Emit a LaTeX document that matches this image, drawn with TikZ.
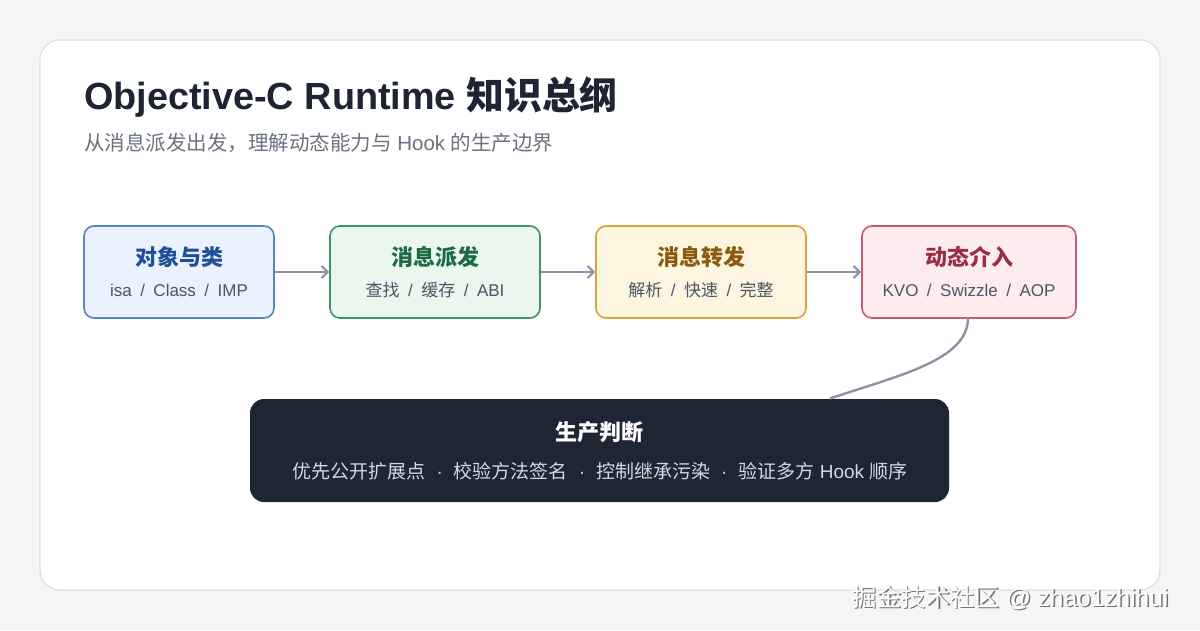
\documentclass[tikz,border=0pt]{standalone}
\usepackage{fontspec}
\setmainfont{Noto Sans CJK SC}
\newfontfamily\latf{Liberation Sans}
\usetikzlibrary{arrows.meta,positioning}
\definecolor{bg}{HTML}{F4F5F7}
\definecolor{cardborder}{HTML}{DCDFE5}
\definecolor{titlec}{HTML}{1E2433}
\definecolor{subc}{HTML}{6B7280}
\definecolor{bodyc}{HTML}{4B5563}
\definecolor{arrowc}{HTML}{8A93A6}
\definecolor{bfill}{HTML}{EAF2FE}\definecolor{bline}{HTML}{5B84C8}\definecolor{btext}{HTML}{1F4E9A}
\definecolor{gfill}{HTML}{E9F7EE}\definecolor{gline}{HTML}{3E9466}\definecolor{gtext}{HTML}{1E6B43}
\definecolor{yfill}{HTML}{FEF5E0}\definecolor{yline}{HTML}{D6A33E}\definecolor{ytext}{HTML}{8A5A0E}
\definecolor{rfill}{HTML}{FDECEF}\definecolor{rline}{HTML}{C85A72}\definecolor{rtext}{HTML}{9A2D45}
\definecolor{darkfill}{HTML}{1E2533}
\definecolor{darksub}{HTML}{D4D8DF}
\newcommand{\sepsl}{{\latf\hspace{8.5pt}/\hspace{8.5pt}}}
\newcommand{\sepdot}{{\latf\hspace{11pt}·\hspace{11pt}}}
\tikzset{
  stagebox/.style={draw, line width=1.6pt, rounded corners=10pt, minimum height=92pt, inner sep=0pt},
  stagetitle/.style={font=\fontsize{22}{26}\selectfont\bfseries, inner sep=0pt},
  stagesub/.style={font=\fontsize{17}{20}\selectfont, text=bodyc, inner sep=0pt},
  flow/.style={draw=arrowc, line width=2.4pt, -{Straight Barb[length=6pt,width=12pt,line width=2.2pt]}},
}
\begin{document}
\begin{tikzpicture}[x=1pt,y=-1pt]
\useasboundingbox (0,0) rectangle (1200,630);
\fill[bg] (0,0) rectangle (1200,630);
\draw[cardborder, fill=white, line width=1.2pt, rounded corners=20pt] (40,40) rectangle (1160,590);

\node[anchor=base west, inner sep=0pt, text=titlec, font=\fontsize{37.8}{44}\selectfont\bfseries] (title) at (84,109) {{\latf Objective-C Runtime }知识总纲};
\node[anchor=base west, inner sep=0pt, text=subc, font=\fontsize{20.5}{24}\selectfont] (subtitle) at (84,150) {从消息派发出发，理解动态能力与{\latf\ Hook }的生产边界};

\node[stagebox, fill=bfill, draw=bline, minimum width=190pt] (b1) at (179,272) {};
\node[stagebox, fill=gfill, draw=gline, minimum width=210pt] (b2) at (435,272) {};
\node[stagebox, fill=yfill, draw=yline, minimum width=210pt] (b3) at (701,272) {};
\node[stagebox, fill=rfill, draw=rline, minimum width=214pt] (b4) at (969,272) {};

\node[stagetitle, text=btext] (t1) at (179,257) {对象与类};
\node[stagesub] (s1) at (179,290) {\latf isa\sepsl Class\sepsl IMP};
\node[stagetitle, text=gtext] (t2) at (435,257) {消息派发};
\node[stagesub] (s2) at (435,290) {查找\sepsl 缓存\sepsl{\latf ABI}};
\node[stagetitle, text=ytext] (t3) at (701,257) {消息转发};
\node[stagesub] (s3) at (701,290) {解析\sepsl 快速\sepsl 完整};
\node[stagetitle, text=rtext] (t4) at (969,257) {动态介入};
\node[stagesub] (s4) at (969,290) {\latf KVO\sepsl Swizzle\sepsl AOP};

\draw[flow] (b1.east) -- (b2.west);
\draw[flow] (b2.east) -- (b3.west);
\draw[flow] (b3.east) -- (b4.west);

\node[fill=darkfill, rounded corners=14pt, minimum width=699pt, minimum height=103pt, inner sep=0pt] (dark) at (599.5,450.5) {};
\node[inner sep=0pt, text=white, font=\fontsize{22}{26}\selectfont\bfseries] (dt) at (599.5,432) {生产判断};
\node[inner sep=0pt, text=darksub, font=\fontsize{19}{22}\selectfont] (ds) at (600,471) {优先公开扩展点\sepdot 校验方法签名\sepdot 控制继承污染\sepdot 验证多方{\latf\ Hook\ }顺序};

\coordinate (cstart) at (968,318);
\coordinate (cend) at (830,398.5);
\draw[arrowc, line width=2.4pt] (cstart) .. controls (968,360) and (900,375) .. (cend);

\node[anchor=base west, inner sep=0pt, text=black!55, font=\fontsize{24.5}{28}\selectfont] (wms) at (853.5,607.5) {掘金技术社区{\latf\ @ zhao1zhihui}};
\node[anchor=base west, inner sep=0pt, text=white, font=\fontsize{24.5}{28}\selectfont] (wm) at (852,606) {掘金技术社区{\latf\ @ zhao1zhihui}};
\end{tikzpicture}
\end{document}
